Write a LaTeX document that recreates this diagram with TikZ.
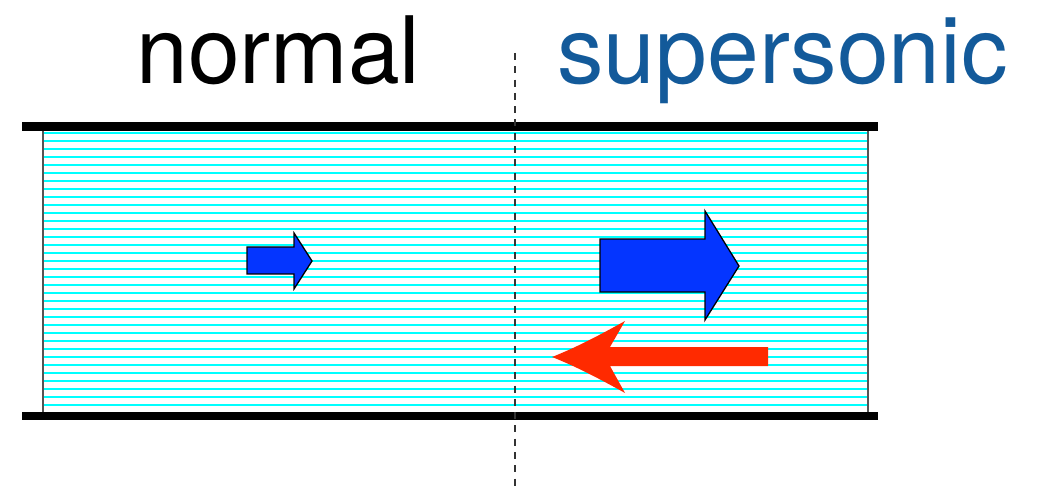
\documentclass[tikz,border=0pt]{standalone}
\usepackage{fontspec}
\setmainfont{TeX Gyre Heros}
\definecolor{pipecyan}{HTML}{00FFFF}
\definecolor{labelblue}{HTML}{135A9A}
\definecolor{arrowblue}{HTML}{0435FF}
\definecolor{arrowred}{HTML}{FF2A00}
\definecolor{wallgray}{HTML}{555555}
\definecolor{dashgray}{HTML}{333333}
\tikzset{
  biglabel/.style={font=\fontsize{93}{100}\selectfont, inner sep=0pt, anchor=base},
  wall/.style={line width=8.5pt, black},
  hatch/.style={line width=1.7pt, pipecyan},
  bluearrow/.style={fill=arrowblue, draw=black, line width=1.3pt, line join=miter},
  redarrow/.style={fill=arrowred, draw=none},
  divider/.style={dashgray, line width=2pt, dash pattern=on 7pt off 6.3pt}
}
\begin{document}
\begin{tikzpicture}[x=1pt,y=-1pt]
\useasboundingbox (0,0) rectangle (1042,489);
% pipe interior
\coordinate (inTL) at (43,127);
\coordinate (inBR) at (868,416);
\fill[white] (inTL) rectangle (inBR);
\foreach \k in {0,...,35} {
  \draw[hatch] (44,132.7+8*\k) -- (867,132.7+8*\k);
}
\draw[wallgray, line width=1.6pt] (inTL) rectangle (inBR);
% walls
\coordinate (wTL) at (22,126.5);
\coordinate (wTR) at (878,126.5);
\coordinate (wBL) at (22,416);
\coordinate (wBR) at (878,416);
\draw[wall] (wTL) -- (wTR);
\draw[wall] (wBL) -- (wBR);
% divider
\coordinate (dTop) at (515,53);
\coordinate (dBot) at (515,489);
\draw[divider] (dTop) -- (dBot);
% labels
\node[biglabel] (normal) at (278.5,84) {normal};
\node[biglabel, text=labelblue] (super) at (782.5,84) {supersonic};
% small blue arrow
\draw[bluearrow] (247,247) -- (294,247) -- (294,233) -- (312,261) -- (294,289) -- (294,274) -- (247,274) -- cycle;
% big blue arrow
\draw[bluearrow] (600,239) -- (705,239) -- (705,211) -- (739,266) -- (705,320) -- (705,292) -- (600,292) -- cycle;
% red arrow
\fill[redarrow] (768,347) -- (610,347) -- (625,321)
  .. controls (600,335) and (575,348) .. (552,357)
  .. controls (575,366) and (600,379) .. (625,393)
  -- (610,366) -- (768,366) -- cycle;
\end{tikzpicture}
\end{document}
